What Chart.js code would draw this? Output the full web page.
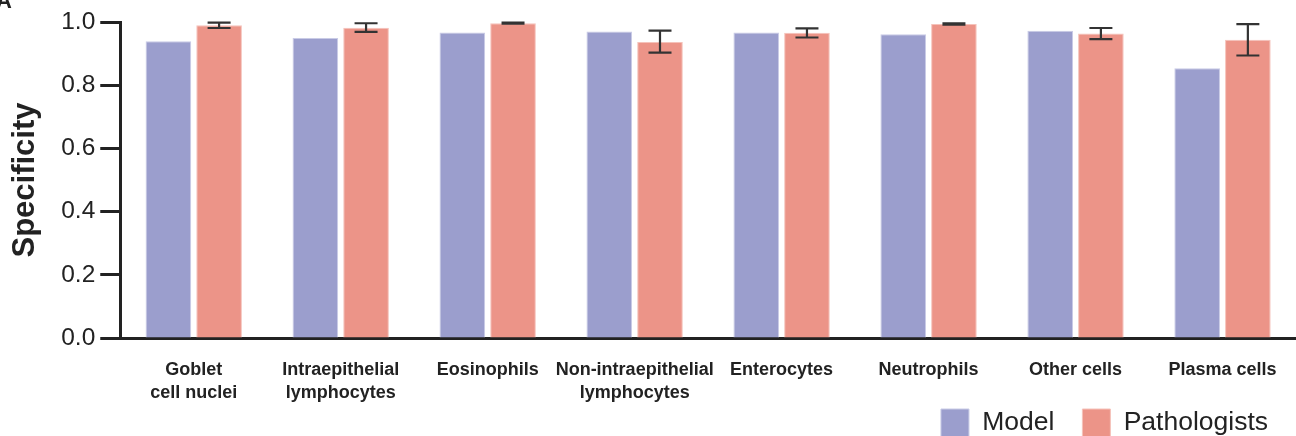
<!DOCTYPE html>
<html>
<head>
<meta charset="utf-8">
<script src="https://cdn.jsdelivr.net/npm/chart.js@4.4.1/dist/chart.umd.min.js"></script>
<style>
  html,body{margin:0;padding:0;background:#fff}
  #wrap{position:relative;width:1296px;height:436px;overflow:hidden}
  #panel{position:absolute;left:-4px;top:-12px;font:bold 22px "Liberation Sans",Arial,sans-serif;color:#222}
</style>
</head>
<body>
<div id="wrap">
  <canvas id="chart" width="1296" height="436"></canvas>
  <div id="panel">A</div>
</div>
<script>
const categories = [['Goblet','cell nuclei'], ['Intraepithelial','lymphocytes'], 'Eosinophils', ['Non-intraepithelial','lymphocytes'], 'Enterocytes', 'Neutrophils', 'Other cells', 'Plasma cells']
const modelValues = [0.939, 0.949, 0.967, 0.970, 0.967, 0.961, 0.972, 0.854]
const pathValues  = [0.990, 0.982, 0.996, 0.937, 0.966, 0.994, 0.964, 0.944]
const pathLow     = [0.981, 0.969, 0.995, 0.903, 0.951, 0.992, 0.946, 0.894]
const pathHigh    = [0.998, 0.996, 0.998, 0.973, 0.980, 0.996, 0.981, 0.993]
const yTicks = [0, 0.2, 0.4, 0.6, 0.8, 1.0]

const ink = '#222'
const font = '"Liberation Sans", Arial, sans-serif'

// whiskers on the Pathologists bars
const errorBars = {
  id: 'errorBars',
  afterDatasetsDraw(chart){
    const meta = chart.getDatasetMeta(1)
    const y = chart.scales.y
    const c = chart.ctx
    c.save()
    c.strokeStyle = '#333'
    c.lineWidth = 2.2
    meta.data.forEach((bar, i) => {
      const x = bar.x
      const lo = y.getPixelForValue(pathLow[i])
      const hi = y.getPixelForValue(pathHigh[i])
      c.beginPath()
      c.moveTo(x, lo); c.lineTo(x, hi)
      c.moveTo(x - 11.5, lo); c.lineTo(x + 11.5, lo)
      c.moveTo(x - 11.5, hi); c.lineTo(x + 11.5, hi)
      c.stroke()
    })
    c.restore()
  }
}

// legend sits on the bottom edge, x labels may run under it
const layoutNudge = {
  id: 'layoutNudge',
  afterLayout(chart){
    chart.legend.top += 11
    chart.legend.bottom += 11
    chart.scales.x.bottom = chart.height
  }
}

new Chart(document.getElementById('chart'), {
  type: 'bar',
  data: {
    labels: categories,
    datasets: [
      {label: 'Model', data: modelValues, backgroundColor: '#9b9ecd', borderColor: '#c9cbe6', borderWidth: 1},
      {label: 'Pathologists', data: pathValues, backgroundColor: '#ec9488', borderColor: '#f5c2ba', borderWidth: 1}
    ]
  },
  options: {
    responsive: false,
    animation: false,
    layout: {padding: {top: 22, left: 7, right: 0, bottom: 0}},
    datasets: {bar: {categoryPercentage: 0.69, barPercentage: 0.9}},
    plugins: {
      legend: {
        position: 'bottom', align: 'end',
        labels: {boxWidth: 28, boxHeight: 28, padding: 28, color: ink, font: {family: font, size: 26.5}}
      },
      tooltip: {enabled: false}
    },
    scales: {
      x: {
        afterFit(s){ s.height = 32 },
        grid: {display: false},
        border: {display: true, width: 3, color: ink},
        ticks: {color: ink, padding: 13, maxRotation: 0, autoSkip: false, font: {family: font, size: 18, weight: 'bold', lineHeight: 1.25}}
      },
      y: {
        min: 0, max: 1,
        afterBuildTicks(s){ s.ticks = yTicks.map(v => ({value: v})) },
        grid: {drawOnChartArea: false, drawTicks: true, tickLength: 20, tickWidth: 3, tickColor: ink},
        border: {display: true, width: 3, color: ink},
        ticks: {color: ink, padding: 5, callback: v => v.toFixed(1), font: {family: font, size: 24.5}},
        title: {display: true, text: 'Specificity', color: ink, padding: {top: 0, bottom: 12}, font: {family: font, size: 31, weight: 'bold'}}
      }
    }
  },
  plugins: [errorBars, layoutNudge]
})
</script>
</body>
</html>
